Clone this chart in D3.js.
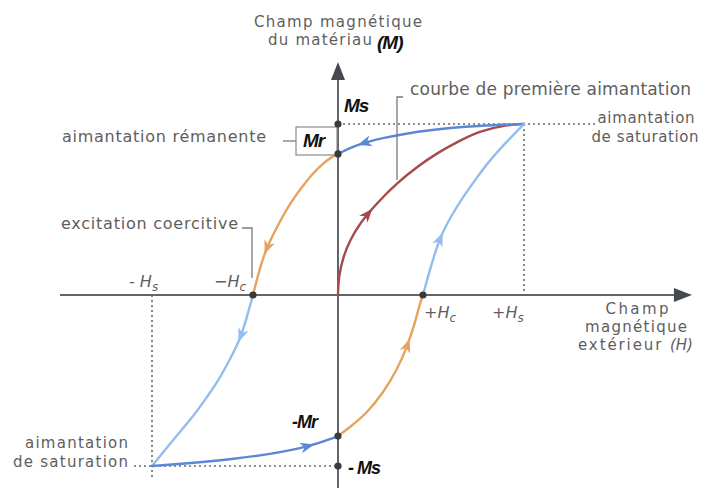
<!DOCTYPE html>
<html><head><meta charset="utf-8">
<script src="https://cdn.jsdelivr.net/npm/d3@7"></script>
<style>body{margin:0;background:#fff}svg{display:block}</style>
</head><body>
<script>
// Characteristic values of the hysteresis loop (normalised units)
const Hs = 1, Hc = 0.457, Ms = 1, Mr = 0.825;

// Branches of the loop, as [H, M] pairs, in the direction of travel
const firstMagnetisation = [[0,0],[0.003,0.105],[0.027,0.222],[0.065,0.322],[0.118,0.421],[0.21,0.538],[0.317,0.655],[0.425,0.749],[0.532,0.83],[0.65,0.9],[0.763,0.959],[0.898,0.994],[1,1]];
const topReturn    = [[1,1],[0.763,0.99],[0.495,0.968],[0.226,0.918],[0.091,0.874],[0,0.825]];
const upperLeft    = [[0,0.825],[-0.016,0.819],[-0.081,0.772],[-0.167,0.673],[-0.258,0.538],[-0.328,0.398],[-0.382,0.281],[-0.419,0.164],[-0.457,0]];
const lowerLeft    = [[-0.457,0],[-0.49,-0.13],[-0.527,-0.263],[-0.59,-0.395],[-0.651,-0.515],[-0.72,-0.62],[-0.78,-0.713],[-0.887,-0.848],[-1,-1]];
const bottomReturn = [[-1,-1],[-0.565,-0.965],[-0.167,-0.895],[0,-0.825]];
const lowerRight   = [[0,-0.825],[0.065,-0.772],[0.156,-0.69],[0.242,-0.573],[0.317,-0.439],[0.371,-0.304],[0.414,-0.164],[0.441,-0.047],[0.457,0]];
const upperRight   = [[0.457,0],[0.5,0.17],[0.548,0.339],[0.61,0.465],[0.672,0.573],[0.745,0.685],[0.817,0.789],[0.91,0.9],[1,1]];

const branches = [
  {pts: firstMagnetisation, color: "#a64a4c", arrowAt: 0.33},
  {pts: topReturn,    color: "#5b87d4", arrowAt: 0.86},
  {pts: upperLeft,    color: "#e6a35e", arrowAt: 0.72},
  {pts: lowerLeft,    color: "#93bdee", arrowAt: 0.22},
  {pts: bottomReturn, color: "#5b87d4", arrowAt: 0.84},
  {pts: lowerRight,   color: "#e6a35e", arrowAt: 0.70},
  {pts: upperRight,   color: "#93bdee", arrowAt: 0.30}
];

// Marked points on the axes
const markedPoints = [[0,Ms],[0,Mr],[-Hc,0],[Hc,0],[0,-Mr],[0,-Ms]];

const W = 720, H = 488;
const x = d3.scaleLinear().domain([0, 1]).range([338, 524]);
const y = d3.scaleLinear().domain([0, 1]).range([295, 124]);

const svg = d3.select("body").append("svg").attr("width", W).attr("height", H);
svg.append("rect").attr("width", W).attr("height", H).attr("fill", "#fff");

const textFont = "'DejaVu Sans', sans-serif";
const grey = "#5e5e5e";
const axisCol = "#5f656c";

// Axes
svg.append("line").attr("x1", x(-1.495)).attr("x2", x(1.83)).attr("y1", y(0)).attr("y2", y(0))
  .attr("stroke", axisCol).attr("stroke-width", 2);
svg.append("line").attr("x1", x(0)).attr("x2", x(0)).attr("y1", y(-1.2)).attr("y2", y(1.28))
  .attr("stroke", axisCol).attr("stroke-width", 2);
const xTip = x(1.903), yTip = y(1.363);
svg.append("path").attr("d", `M${xTip},${y(0)} L${xTip-18},${y(0)-7} L${xTip-18},${y(0)+7} Z`).attr("fill", "#464a50");
svg.append("path").attr("d", `M${x(0)},${yTip} L${x(0)-7},${yTip+18} L${x(0)+7},${yTip+18} Z`).attr("fill", "#464a50");

// Dotted guide lines to saturation
const dotted = (x1, y1, x2, y2) => svg.append("line")
  .attr("x1", x1).attr("y1", y1).attr("x2", x2).attr("y2", y2)
  .attr("stroke", "#6a6a6a").attr("stroke-width", 1.6).attr("stroke-dasharray", "2,3");
dotted(x(0), y(Ms), 596, y(Ms));
dotted(x(Hs), y(Ms), x(Hs), y(0));
dotted(x(-Hs), y(0), x(-Hs), 478);
dotted(134, y(-Ms), x(0), y(-Ms));

// Loop branches with direction arrows
const line = d3.line().x(d => x(d[0])).y(d => y(d[1])).curve(d3.curveBasis);
branches.forEach(b => {
  const p = svg.append("path").attr("d", line(b.pts)).attr("fill", "none")
    .attr("stroke", b.color).attr("stroke-width", 2.4).attr("stroke-linecap", "round");
  const node = p.node(), L = node.getTotalLength();
  const a = node.getPointAtLength(L * b.arrowAt);
  const c = node.getPointAtLength(Math.min(L, L * b.arrowAt + 2));
  const ang = Math.atan2(c.y - a.y, c.x - a.x) * 180 / Math.PI;
  svg.append("path").attr("d", "M5,0 L-9,-5.5 L-5,0 L-9,5.5 Z")
    .attr("fill", b.color).attr("transform", `translate(${a.x},${a.y}) rotate(${ang})`);
});

// Bracket lines linking labels to their features
const bracket = (d) => svg.append("path").attr("d", d).attr("fill", "none")
  .attr("stroke", "#7a7a7a").attr("stroke-width", 1.3);
bracket(`M403,97 L397,97 L397,180`);
bracket(`M242,228 L252,228 L252,278`);
bracket(`M283,141 L296,141`);
svg.append("rect").attr("x", 296).attr("y", 127).attr("width", 41).attr("height", 28)
  .attr("fill", "#fff").attr("stroke", "#8a8a8a").attr("stroke-width", 1.2);

// Marked points
svg.selectAll("circle.pt").data(markedPoints).join("circle").attr("class", "pt")
  .attr("cx", d => x(d[0])).attr("cy", d => y(d[1])).attr("r", 3.6).attr("fill", "#3a3a3a");

// Grey labels (width given to follow the wide letter spacing of the lettering)
const label = (t, px, py, anchor, width, size) => {
  const el = svg.append("text").attr("x", px).attr("y", py)
    .attr("text-anchor", anchor || "start").attr("font-family", textFont)
    .attr("font-size", size || 16).attr("fill", grey).text(t);
  if (width) el.attr("textLength", width).attr("lengthAdjust", "spacing");
  return el;
};
label("Champ magnétique", 338, 27, "middle", 168, 15);
label("du matériau", 268, 45, "start", 104, 15);
label("courbe de première aimantation", 410, 95, "start", 281, 17);
label("aimantation", 646, 123, "middle", 97, 15);
label("de saturation", 645, 142, "middle", 107, 15);
label("aimantation rémanente", 62, 142, "start", 204);
label("excitation coercitive", 61, 229, "start", 177);
label("Champ", 637, 314, "middle", 63, 15);
label("magnétique", 636, 332, "middle", 102, 15);
const ext = svg.append("text").attr("x", 578).attr("y", 350).attr("font-family", textFont)
  .attr("font-size", 15).attr("fill", grey);
ext.append("tspan").text("extérieur ").attr("textLength", 90).attr("lengthAdjust", "spacing");
ext.append("tspan").attr("font-style", "italic").text("(H)");
label("aimantation", 128, 448, "end", 103, 15);
label("de saturation", 128, 467, "end", 115, 15);

// Field labels with subscripts
const fieldLabel = (pre, sub, px, py) => {
  const t = svg.append("text").attr("x", px).attr("y", py).attr("font-family", textFont)
    .attr("font-size", 16).attr("fill", grey).attr("font-style", "italic");
  t.append("tspan").text(pre);
  t.append("tspan").attr("font-size", 12).attr("dy", 4).text(sub);
};
fieldLabel("- H", "s", 129, 287);
fieldLabel("−H", "c", 214, 287);
fieldLabel("+H", "c", 424, 318);
fieldLabel("+H", "s", 492, 318);

// Bold symbols
const sym = (t, px, py, size) => svg.append("text").attr("x", px).attr("y", py)
  .attr("font-family", "'Liberation Sans', Arial, sans-serif").attr("font-weight", "bold")
  .attr("font-style", "italic").attr("font-size", size || 18).attr("fill", "#111")
  .attr("letter-spacing", -1).text(t);
sym("(M)", 377, 49, 19);
sym("Ms", 344, 112, 19);
sym("Mr", 303, 147, 19);
sym("-Mr", 292, 428);
sym("- Ms", 348, 474);
</script>
</body></html>
